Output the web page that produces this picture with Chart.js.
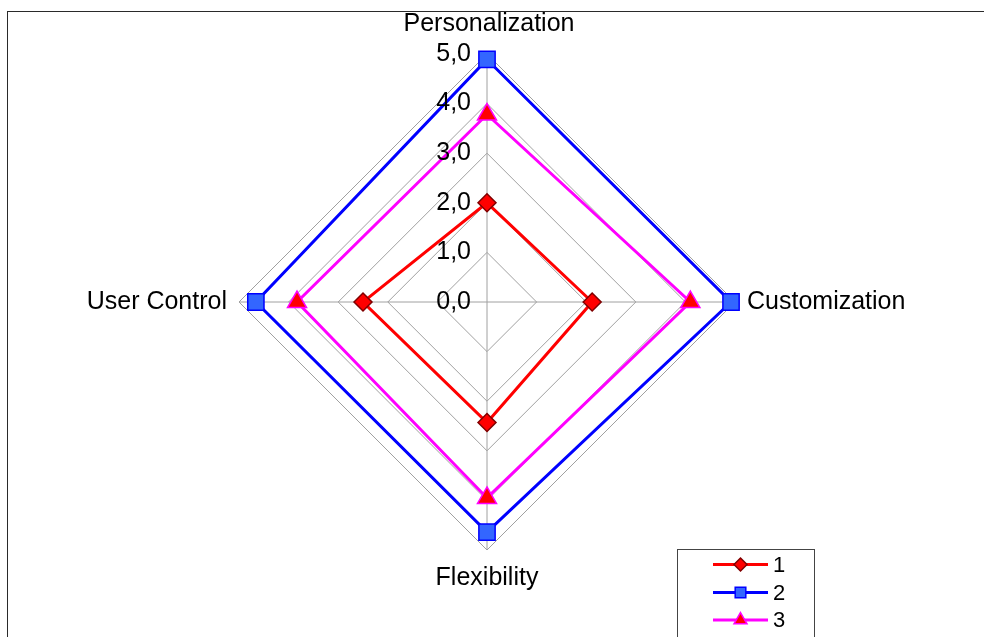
<!DOCTYPE html>
<html>
<head>
<meta charset="utf-8">
<script src="https://cdn.jsdelivr.net/npm/chart.js@4"></script>
<style>
  html, body { margin: 0; padding: 0; background: #fff; }
  #wrap { position: relative; width: 984px; height: 637px; overflow: hidden; }
  #frame { position: absolute; left: 7px; top: 11px; width: 2000px; height: 2000px;
           border-top: 1px solid #2a2a2a; border-left: 1px solid #2a2a2a; }
  canvas { position: absolute; left: 0; top: 0; }
</style>
</head>
<body>
<div id="wrap">
  <div id="frame"></div>
  <canvas id="c" width="984" height="637"></canvas>
</div>
<script>
// Axes of the radar
const categories = ['Personalization', 'Customization', 'Flexibility', 'User Control'];

// Series values
const series1 = [2.0, 2.12, 2.43, 2.5];
const series2 = [4.89, 4.92, 4.64, 4.66];
const series3 = [3.78, 4.1, 3.95, 3.83];
const seriesNames = ['1', '2', '3'];

// Radial tick labels (decimal comma)
const tickLabels = ['0,0', '1,0', '2,0', '3,0', '4,0', '5,0'];

const FONT = '"Liberation Sans", Arial, sans-serif';

// Axis names, tick labels and the boxed legend
const textPlugin = {
  id: 'radarText',
  afterDraw(chart) {
    const ctx = chart.ctx;
    const s = chart.scales.r;
    ctx.save();
    ctx.fillStyle = '#000';

    // axis names around the web
    ctx.font = '25px ' + FONT;
    ctx.textBaseline = 'middle';
    categories.forEach((name, i) => {
      const edge = s.getPointPosition(i, s.drawingArea);
      const dx = edge.x - s.xCenter, dy = edge.y - s.yCenter;
      const vertical = Math.abs(dx) < 1;
      let gap = 12;
      if (vertical) gap = dy < 0 ? 30 : 28;
      const p = s.getPointPosition(i, s.drawingArea + gap);
      ctx.textAlign = vertical ? 'center' : (dx > 0 ? 'left' : 'right');
      ctx.fillText(name, p.x + (vertical && dy < 0 ? 2 : 0), p.y);
    });

    // tick labels left of the vertical axis
    ctx.font = '25px ' + FONT;
    ctx.textAlign = 'right';
    s.ticks.forEach((t, i) => {
      const p = s.getPointPositionForValue(0, t.value);
      ctx.fillText(tickLabels[i], p.x - 16, p.y);
    });

    // legend
    const bx = 677.5, by = 549.5, bw = 137;
    ctx.strokeStyle = '#444';
    ctx.lineWidth = 1;
    ctx.strokeRect(bx, by, bw, 120);
    ctx.font = '22px ' + FONT;
    ctx.textAlign = 'left';
    const rows = [564.5, 592.5, 620];
    chart.data.datasets.forEach((ds, i) => {
      const y = rows[i];
      ctx.strokeStyle = ds.borderColor;
      ctx.lineWidth = 3;
      ctx.beginPath();
      ctx.moveTo(713, y);
      ctx.lineTo(768, y);
      ctx.stroke();
      ctx.fillStyle = ds.pointBackgroundColor;
      ctx.strokeStyle = ds.pointBorderColor;
      ctx.lineWidth = ds.pointBorderWidth;
      Chart.helpers.drawPoint(ctx, {
        pointStyle: ds.pointStyle, radius: ds.legendRadius,
        rotation: 0, borderWidth: ds.pointBorderWidth
      }, 740.5, y);
      ctx.fillStyle = '#000';
      ctx.fillText(ds.label, 773, y + 1);
    });
    ctx.restore();
  }
};

new Chart(document.getElementById('c'), {
  type: 'radar',
  data: {
    labels: categories,
    datasets: [
      { label: seriesNames[0], data: series1, borderColor: '#ff0000', borderWidth: 3,
        pointStyle: 'rectRot', pointRadius: 9, legendRadius: 6.5,
        pointBackgroundColor: '#ff0000', pointBorderColor: '#800000', pointBorderWidth: 1.5,
        fill: false, order: 3 },
      { label: seriesNames[1], data: series2, borderColor: '#0000ff', borderWidth: 3,
        pointStyle: 'rect', pointRadius: 11.5, legendRadius: 7.5,
        pointBackgroundColor: '#3366ff', pointBorderColor: '#0000ff', pointBorderWidth: 1.5,
        fill: false, order: 2 },
      { label: seriesNames[2], data: series3, borderColor: '#ff00ff', borderWidth: 3,
        pointStyle: 'triangle', pointRadius: 11, legendRadius: 7.5,
        pointBackgroundColor: '#ff0000', pointBorderColor: '#ff00ff', pointBorderWidth: 1.5,
        fill: false, order: 1 }
    ]
  },
  options: {
    responsive: false,
    animation: false,
    layout: { padding: { left: 239, right: 249, top: 54, bottom: 87 } },
    elements: { line: { tension: 0 } },
    plugins: { legend: { display: false }, tooltip: { enabled: false } },
    scales: {
      r: {
        min: 0, max: 5,
        ticks: { stepSize: 1, display: false },
        pointLabels: { display: false },
        grid: { color: '#a0a0a0', lineWidth: 1 },
        angleLines: { color: '#a0a0a0', lineWidth: 1 }
      }
    }
  },
  plugins: [textPlugin]
});
</script>
</body>
</html>
